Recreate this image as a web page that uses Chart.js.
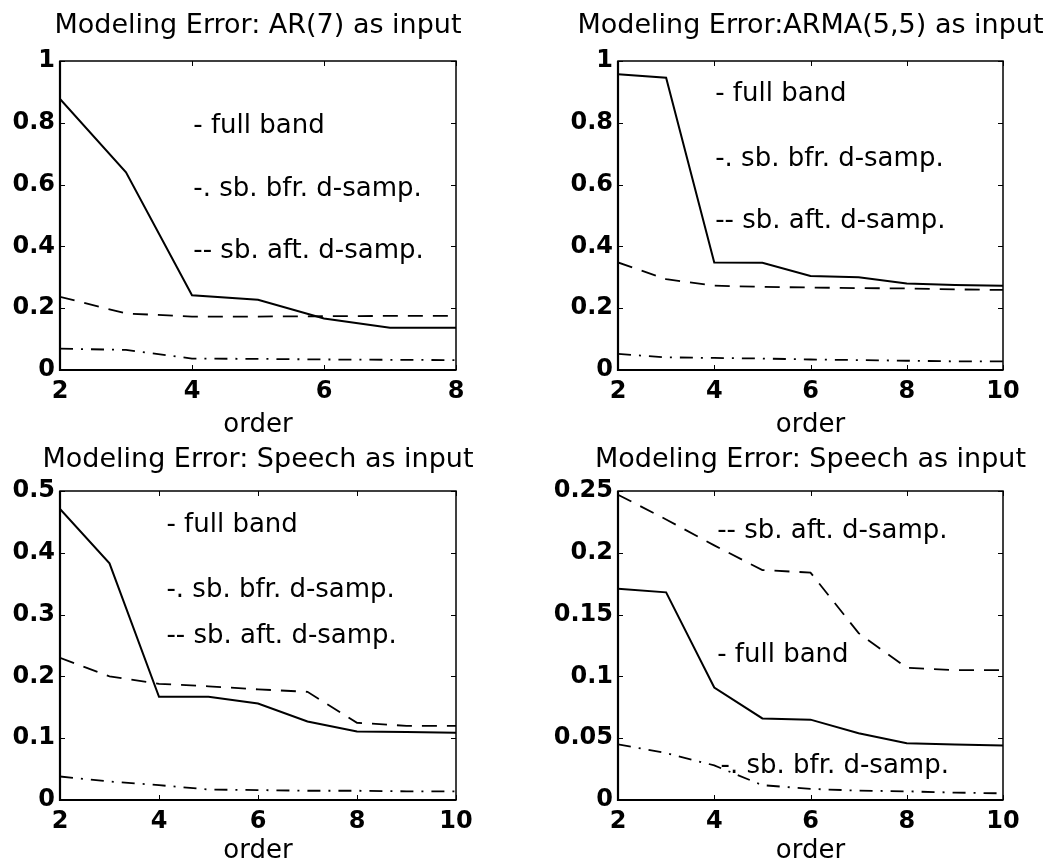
<!DOCTYPE html>
<html>
<head>
<meta charset="utf-8">
<script src="https://cdn.jsdelivr.net/npm/chart.js@4.4.1/dist/chart.umd.min.js"></script>
<style>
html,body{margin:0;padding:0;background:#fff;overflow:hidden;width:1057px;height:867px;}
canvas{position:absolute;}
</style>
</head>
<body>
<canvas id="c1" width="516" height="445" style="left:0px;top:0px"></canvas>
<canvas id="c2" width="521" height="445" style="left:550px;top:0px"></canvas>
<canvas id="c3" width="516" height="437" style="left:0px;top:430px"></canvas>
<canvas id="c4" width="521" height="437" style="left:550px;top:430px"></canvas>
<script>
// ---------- data ----------
const ordersAR = [2, 3, 4, 5, 6, 7, 8];
const ordersLong = [2, 3, 4, 5, 6, 7, 8, 9, 10];

const ar7Full = [0.877, 0.640, 0.242, 0.227, 0.167, 0.137, 0.137];
const ar7Bfr  = [0.069, 0.065, 0.037, 0.036, 0.034, 0.033, 0.032];
const ar7Aft  = [0.237, 0.183, 0.173, 0.173, 0.174, 0.175, 0.175];

const armaFull = [0.957, 0.946, 0.348, 0.347, 0.304, 0.300, 0.280, 0.275, 0.273];
const armaBfr  = [0.052, 0.041, 0.039, 0.037, 0.034, 0.032, 0.030, 0.028, 0.028];
const armaAft  = [0.348, 0.294, 0.273, 0.269, 0.267, 0.265, 0.264, 0.261, 0.259];

const sp1Full = [0.471, 0.383, 0.167, 0.167, 0.156, 0.127, 0.111, 0.110, 0.109];
const sp1Bfr  = [0.038, 0.030, 0.024, 0.017, 0.016, 0.015, 0.015, 0.014, 0.014];
const sp1Aft  = [0.230, 0.200, 0.188, 0.184, 0.179, 0.175, 0.125, 0.120, 0.120];

const sp2Full = [0.171, 0.168, 0.091, 0.066, 0.065, 0.054, 0.046, 0.045, 0.044];
const sp2Bfr  = [0.045, 0.038, 0.028, 0.012, 0.009, 0.0076, 0.007, 0.006, 0.0054];
const sp2Aft  = [0.247, 0.227, 0.206, 0.186, 0.184, 0.135, 0.107, 0.105, 0.105];

const xTicksAR = [2, 4, 6, 8];
const xTicksLong = [2, 4, 6, 8, 10];
const yTicksUnit = [0, 0.2, 0.4, 0.6, 0.8, 1];
const yTicksHalf = [0, 0.1, 0.2, 0.3, 0.4, 0.5];
const yTicksQuarter = [0, 0.05, 0.1, 0.15, 0.2, 0.25];

const titles = [
  'Modeling Error: AR(7) as input',
  'Modeling Error:ARMA(5,5) as input',
  'Modeling Error: Speech as input',
  'Modeling Error: Speech as input'
];
const seriesNames = ['- full band', '-. sb. bfr. d-samp.', '-- sb. aft. d-samp.'];
const xLabel = 'order';

// ---------- drawing helpers ----------
const FONT = 'DejaVu Sans';

const framePlugin = {
  id: 'mframe',
  afterDatasetsDraw(chart, args, opts) {
    const {ctx, chartArea: a} = chart;
    const x = chart.scales.x, y = chart.scales.y;
    ctx.save();
    ctx.strokeStyle = '#000';
    ctx.lineWidth = 1;
    const tl = 5;
    ctx.beginPath();
    x.ticks.forEach(t => {
      const px = Math.round(x.getPixelForValue(t.value)) + 0.5;
      ctx.moveTo(px, a.bottom); ctx.lineTo(px, a.bottom - tl);
      ctx.moveTo(px, a.top); ctx.lineTo(px, a.top + tl);
    });
    y.ticks.forEach(t => {
      const py = Math.round(y.getPixelForValue(t.value)) + 0.5;
      ctx.moveTo(a.left, py); ctx.lineTo(a.left + tl, py);
      ctx.moveTo(a.right, py); ctx.lineTo(a.right - tl, py);
    });
    ctx.stroke();
    ctx.lineWidth = 1.5;
    ctx.strokeRect(a.left, a.top, a.right - a.left, a.bottom - a.top);
    ctx.lineWidth = 2.2;
    ctx.beginPath();
    ctx.moveTo(a.left, a.top); ctx.lineTo(a.left, a.bottom); ctx.lineTo(a.right, a.bottom);
    ctx.stroke();
    ctx.restore();
  },
  afterDraw(chart, args, opts) {
    const {ctx} = chart;
    const x = chart.scales.x, y = chart.scales.y;
    ctx.save();
    ctx.fillStyle = '#000';
    ctx.font = '26px "' + FONT + '"';
    ctx.textAlign = 'left';
    ctx.textBaseline = 'alphabetic';
    (opts.notes || []).forEach(n => {
      ctx.fillText(n.text, x.getPixelForValue(n.x), y.getPixelForValue(n.y));
    });
    ctx.restore();
  }
};

const fmtTick = v => String(Math.round(v * 10000) / 10000);

function makeChart(id, o) {
  const styles = [
    {borderDash: [], borderWidth: 2},
    {borderDash: [13, 8, 2, 8], borderWidth: 1.8},
    {borderDash: [15, 10], borderWidth: 1.8}
  ];
  const datasets = o.series.map((vals, i) => ({
    label: seriesNames[i],
    data: vals.map((v, k) => ({x: o.xs[k], y: v})),
    borderColor: '#000',
    backgroundColor: '#000',
    borderWidth: styles[i].borderWidth,
    borderDash: styles[i].borderDash,
    pointRadius: 0,
    tension: 0,
    fill: false
  }));
  return new Chart(document.getElementById(id), {
    type: 'line',
    data: {datasets},
    options: {
      responsive: false,
      animation: false,
      events: [],
      layout: {padding: 0, autoPadding: false},
      plugins: {
        legend: {display: false},
        tooltip: {enabled: false},
        title: {
          display: true,
          text: o.title,
          color: '#000',
          fullSize: true,
          font: {family: FONT, size: 27, weight: 'normal', lineHeight: 1.2},
          padding: {top: o.titleTop, bottom: o.titleBottom}
        },
        mframe: {notes: o.notes}
      },
      scales: {
        x: {
          type: 'linear',
          position: 'bottom',
          min: o.xs[0],
          max: o.xs[o.xs.length - 1],
          afterBuildTicks: s => { s.ticks = o.xTicks.map(v => ({value: v})); },
          afterFit: s => { s.height = o.xAxisH; },
          grid: {display: false, drawTicks: false},
          border: {display: false},
          ticks: {
            color: '#000',
            padding: 7,
            maxRotation: 0,
            autoSkip: false,
            callback: fmtTick,
            font: {family: FONT, size: 24, weight: 'bold'}
          },
          title: {
            display: true,
            text: xLabel,
            color: '#000',
            font: {family: FONT, size: 26, weight: 'normal', lineHeight: 1.2},
            padding: {top: 0, bottom: o.orderBottom}
          }
        },
        y: {
          type: 'linear',
          position: 'left',
          min: o.yTicks[0],
          max: o.yTicks[o.yTicks.length - 1],
          afterBuildTicks: s => { s.ticks = o.yTicks.map(v => ({value: v})); },
          afterFit: s => { s.width = o.yAxisW; },
          grid: {display: false, drawTicks: false},
          border: {display: false},
          ticks: {
            color: '#000',
            padding: 5,
            autoSkip: false,
            callback: fmtTick,
            font: {family: FONT, size: 24, weight: 'bold'}
          }
        },
        yR: {
          type: 'linear',
          position: 'right',
          display: true,
          afterFit: s => { s.width = o.yAxisW; },
          grid: {display: false, drawTicks: false},
          border: {display: false},
          ticks: {display: false}
        }
      }
    },
    plugins: [framePlugin]
  });
}

makeChart('c1', {
  title: titles[0], xs: ordersAR, series: [ar7Full, ar7Bfr, ar7Aft],
  xTicks: xTicksAR, yTicks: yTicksUnit, yAxisW: 60, xAxisH: 75,
  titleTop: 10, titleBottom: 18.6, orderBottom: 4.4,
  notes: [
    {x: 4.02, y: 0.767, text: seriesNames[0]},
    {x: 4.02, y: 0.563, text: seriesNames[1]},
    {x: 4.02, y: 0.362, text: seriesNames[2]}
  ]
});
makeChart('c2', {
  title: titles[1], xs: ordersLong, series: [armaFull, armaBfr, armaAft],
  xTicks: xTicksLong, yTicks: yTicksUnit, yAxisW: 68, xAxisH: 75,
  titleTop: 10, titleBottom: 18.6, orderBottom: 4.4,
  notes: [
    {x: 4.02, y: 0.87, text: seriesNames[0]},
    {x: 4.02, y: 0.66, text: seriesNames[1]},
    {x: 4.02, y: 0.46, text: seriesNames[2]}
  ]
});
makeChart('c3', {
  title: titles[2], xs: ordersLong, series: [sp1Full, sp1Bfr, sp1Aft],
  xTicks: xTicksLong, yTicks: yTicksHalf, yAxisW: 60, xAxisH: 67,
  titleTop: 14, titleBottom: 14.6, orderBottom: 0,
  notes: [
    {x: 4.15, y: 0.434, text: seriesNames[0]},
    {x: 4.15, y: 0.329, text: seriesNames[1]},
    {x: 4.15, y: 0.254, text: seriesNames[2]}
  ]
});
makeChart('c4', {
  title: titles[3], xs: ordersLong, series: [sp2Full, sp2Bfr, sp2Aft],
  xTicks: xTicksLong, yTicks: yTicksQuarter, yAxisW: 68, xAxisH: 67,
  titleTop: 14, titleBottom: 14.6, orderBottom: 0,
  notes: [
    {x: 4.06, y: 0.212, text: seriesNames[2]},
    {x: 4.06, y: 0.112, text: seriesNames[0]},
    {x: 4.13, y: 0.022, text: seriesNames[1]}
  ]
});
</script>
</body>
</html>
